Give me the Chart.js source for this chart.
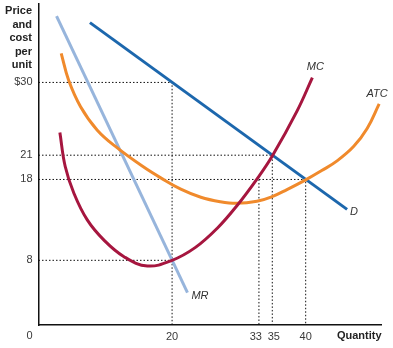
<!DOCTYPE html>
<html>
<head>
<meta charset="utf-8">
<script src="https://cdn.jsdelivr.net/npm/chart.js@4"></script>
<style>
  body { margin: 0; background: #fff; }
  #chart { display: block; }
</style>
</head>
<body>
<canvas id="chart" width="393" height="348"></canvas>
<script>
// 数据
const yTicks = [8, 18, 21, 30];
const xTicks = [20, 33, 35, 40];

const demandQ = [7.7, 46.2];
const demandP = [37.4, 14.3];

const mrQ = [2.7, 22.3];
const mrP = [38.2, 4.0];

const mcQ = [3.2, 4.0, 5.3, 7.3, 9.8, 12.8, 16.3, 20, 23.5, 26.8, 29.7, 32.7, 35, 38.7, 41];
const mcP = [23.8, 19.6, 16.3, 13.0, 10.5, 8.45, 7.3, 8.0, 9.6, 12.0, 14.75, 18.05, 20.9, 26.45, 30.6];

const atcQ = [3.4, 4.5, 6.3, 8.8, 11.8, 15.8, 18.3, 21.3, 24.3, 27.2, 29.7, 32.7, 34.9, 37.2, 40, 42.4, 44.7, 47.2, 49.2, 51];
const atcP = [33.6, 30.3, 27.0, 24.1, 21.9, 19.5, 18.2, 16.8, 15.8, 15.25, 15.05, 15.3, 15.85, 16.75, 17.95, 19.1, 20.3, 22.1, 24.3, 27.35];

// 虚线辅助线 [Q, P]
const guides = [
    [[0, 30], [20, 30], [20, 0]],
    [[0, 8], [20, 8]],
    [[0, 21], [35, 21], [35, 0]],
    [[0, 18], [40, 18], [40, 0]],
    [[33, 18], [33, 0]]
];

const FONT = '"Liberation Sans", Arial, Helvetica, sans-serif';

function toPoints(xs, ys) {
    return xs.map((x, i) => ({ x: x, y: ys[i] }));
}

function curve(label, xs, ys, color, order, tension) {
    return {
        label: label,
        data: toPoints(xs, ys),
        showLine: true,
        borderColor: color,
        borderWidth: 3,
        pointRadius: 0,
        tension: tension,
        borderCapStyle: 'butt',
        order: order
    };
}

const datasets = [
    curve('MC', mcQ, mcP, '#a6163f', 1, 0.4),
    curve('ATC', atcQ, atcP, '#f08a2c', 2, 0.4),
    curve('D', demandQ, demandP, '#1c67ad', 3, 0),
    curve('MR', mrQ, mrP, '#97b5dc', 4, 0)
];

guides.forEach(g => {
    datasets.push({
        label: 'guide',
        data: g.map(p => ({ x: p[0], y: p[1] })),
        showLine: true,
        borderColor: '#111',
        borderWidth: 1,
        borderDash: [1.5, 2],
        pointRadius: 0,
        order: 10
    });
});

// 文字标注插件
const textPlugin = {
    id: 'texts',
    afterDraw(chart) {
        const ctx = chart.ctx;
        const xs = chart.scales.x, ys = chart.scales.y;
        ctx.save();

        // 纵轴标题
        ctx.font = 'bold 11px ' + FONT;
        ctx.fillStyle = '#222';
        ctx.textAlign = 'right';
        ctx.textBaseline = 'middle';
        ['Price', 'and', 'cost', 'per', 'unit'].forEach((t, i) => {
            ctx.fillText(t, 32, 11 + i * 13.6);
        });

        // 横轴标题
        ctx.textAlign = 'right';
        ctx.fillText('Quantity', xs.right, 336);

        // 原点
        ctx.font = '11px ' + FONT;
        ctx.fillStyle = '#3a3a3a';
        ctx.textAlign = 'center';
        ctx.fillText('0', xs.left - 9, 336);

        // 曲线标签
        ctx.font = 'italic 11px ' + FONT;
        ctx.fillStyle = '#333';
        const lab = (text, q, p, dx, dy, align) => {
            ctx.textAlign = align || 'center';
            ctx.fillText(text, xs.getPixelForValue(q) + dx, ys.getPixelForValue(p) + dy);
        };
        lab('MC', mcQ[mcQ.length - 1], mcP[mcP.length - 1], 3, -11);
        lab('ATC', atcQ[atcQ.length - 1], atcP[atcP.length - 1], -2, -10);
        lab('D', demandQ[1], demandP[1], 3, 3, 'left');
        lab('MR', mrQ[1], mrP[1], 4, 3, 'left');

        ctx.restore();
    }
};

new Chart(document.getElementById('chart'), {
    type: 'scatter',
    data: { datasets: datasets },
    options: {
        responsive: false,
        animation: false,
        layout: { padding: { top: 4, right: 11.5, left: 0, bottom: 0 } },
        plugins: {
            legend: { display: false },
            tooltip: { enabled: false }
        },
        scales: {
            x: {
                type: 'linear',
                min: 0,
                max: 51.35,
                grid: { display: false, drawTicks: false },
                border: { display: true, color: '#111', width: 1.5 },
                afterBuildTicks: s => { s.ticks = xTicks.map(v => ({ value: v })); },
                afterFit: s => { s.height = 23; s.paddingLeft = 0; s.paddingRight = 0; },
                ticks: {
                    padding: 5,
                    maxRotation: 0,
                    autoSkip: false,
                    color: '#3a3a3a',
                    font: { family: FONT, size: 11 },
                    // 33 和 35 挨得很近，稍微分开
                    callback: v => v === 33 ? '33  ' : v === 35 ? ' 35' : String(v)
                }
            },
            y: {
                type: 'linear',
                min: 0,
                max: 39.7,
                grid: { display: false, drawTicks: false },
                border: { display: true, color: '#111', width: 1.5 },
                afterBuildTicks: s => { s.ticks = yTicks.map(v => ({ value: v })); },
                afterFit: s => { s.width = 38.5; s.paddingTop = 0; s.paddingBottom = 0; },
                ticks: {
                    padding: 6,
                    autoSkip: false,
                    color: '#3a3a3a',
                    font: { family: FONT, size: 11 },
                    callback: v => v === 30 ? '$30' : String(v)
                }
            }
        }
    },
    plugins: [textPlugin]
});
</script>
</body>
</html>
